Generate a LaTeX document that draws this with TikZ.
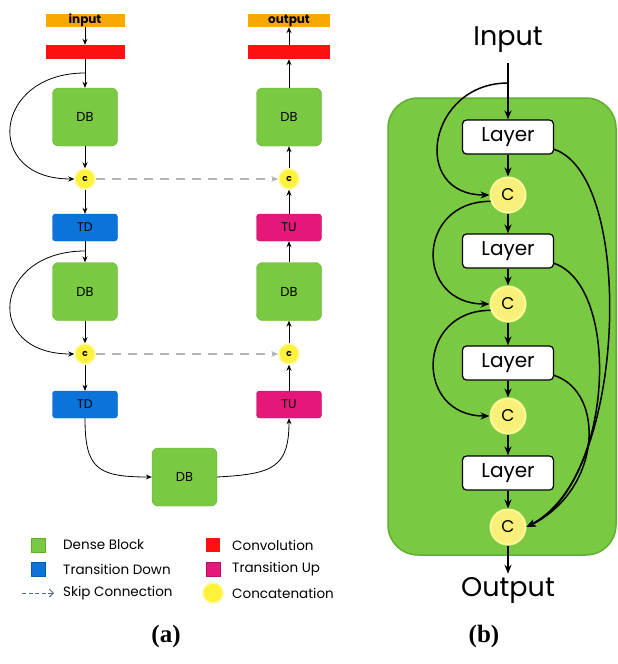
\documentclass[tikz,border=0pt]{standalone}
\usepackage{fontspec}
\usetikzlibrary{arrows.meta, positioning, calc}
\newfontfamily\gothique{Poppins}
\newfontfamily\titre{Liberation Serif}
\definecolor{vertdb}{HTML}{7AC943}
\definecolor{vertbord}{HTML}{5FB02C}
\definecolor{bleutd}{HTML}{0A74DA}
\definecolor{rosetu}{HTML}{E5177A}
\definecolor{rougeconv}{HTML}{FF1010}
\definecolor{orangein}{HTML}{F9A800}
\definecolor{jaunec}{HTML}{FFF23A}
\definecolor{jaunehalo}{HTML}{FFF99A}
\definecolor{jauneb}{HTML}{F8F07A}
\definecolor{grisskip}{HTML}{B4B4B4}
\definecolor{grisleg}{HTML}{5A6A85}

\begin{document}
\begin{tikzpicture}[x=1pt, y=-1pt, >={Stealth[length=6pt,width=5pt]},
  every node/.style={font=\gothique},
  fleche/.style={->, line width=0.8pt},
  db/.style={draw=vertbord, fill=vertdb, rounded corners=6pt, minimum width=65pt, minimum height=58pt, font=\gothique\fontsize{13}{13}\selectfont},
  td/.style={draw=bleutd!80!black, fill=bleutd, rounded corners=3pt, minimum width=65pt, minimum height=27pt, font=\gothique\fontsize{12.5}{13}\selectfont},
  tu/.style={td, draw=rosetu!80!black, fill=rosetu},
  conv/.style={fill=rougeconv, minimum height=14pt, inner sep=0pt},
  io/.style={fill=orangein, minimum height=13pt, inner sep=0pt, font=\gothique\bfseries\fontsize{12}{12}\selectfont},
  concat/.style={circle, fill=jaunec, draw=jaunehalo, line width=1.5pt, minimum size=20pt, inner sep=0pt, font=\gothique\bfseries\fontsize{9}{9}\selectfont},
  layer/.style={draw, fill=white, line width=1.2pt, rounded corners=4pt, minimum width=91pt, minimum height=34pt, inner sep=0pt, font=\gothique\fontsize{20}{20}\selectfont},
  grosc/.style={circle, fill=jauneb, draw=jaunehalo, line width=2pt, minimum size=35pt, inner sep=0pt, font=\gothique\fontsize{17}{17}\selectfont},
  grosse/.style={->, line width=1.5pt, >={Stealth[length=9pt,width=7pt]}},
  leg/.style={anchor=west, inner sep=0pt, font=\gothique\fontsize{13.5}{14}\selectfont}]

  \useasboundingbox (0,0) rectangle (618,664);

  % (a) colonne descendante
  \node[io, minimum width=79pt] (inp) at (85,20.5) {input};
  \node[conv, minimum width=79pt] (conv1) at (85,52) {};
  \node[db] (db1) at (85,117) {DB};
  \node[concat] (c1) at (85,179) {c};
  \node[td] (td1) at (85,227.5) {TD};
  \node[db] (db2) at (85,291.5) {DB};
  \node[concat] (c2) at (85,354) {c};
  \node[td] (td2) at (85,404.5) {TD};

  % (a) bloc du fond
  \node[db] (db3) at (184.5,477) {DB};

  % (a) colonne montante
  \node[tu] (tu2) at (289,404.5) {TU};
  \node[concat] (c4) at (289,354) {c};
  \node[db] (db4) at (289,291.5) {DB};
  \node[tu] (tu1) at (289,227.5) {TU};
  \node[concat] (c3) at (289,179) {c};
  \node[db] (db5) at (289,117) {DB};
  \node[conv, minimum width=82pt] (conv2) at (289,52) {};
  \node[io, minimum width=82pt] (outp) at (289,20.5) {output};

  % fleches verticales
  \draw[fleche] (inp) -- (conv1);
  \draw[fleche] (conv1) -- (db1);
  \draw[fleche] (db1) -- (c1);
  \draw[fleche] (c1) -- (td1);
  \draw[fleche] (td1) -- (db2);
  \draw[fleche] (db2) -- (c2);
  \draw[fleche] (c2) -- (td2);
  \draw[fleche] (tu2) -- (c4);
  \draw[fleche] (c4) -- (db4);
  \draw[fleche] (db4) -- (tu1);
  \draw[fleche] (tu1) -- (c3);
  \draw[fleche] (c3) -- (db5);
  \draw[fleche] (db5) -- (conv2);
  \draw[fleche] (conv2) -- (outp);

  % contournements des blocs denses
  \coordinate (b1) at (85,73);
  \coordinate (b2) at (85,251);
  \draw[fleche] (b1) .. controls +(-92,0) and +(-92,0) .. (c1.west);
  \draw[fleche] (b2) .. controls +(-92,0) and +(-92,0) .. (c2.west);
  \draw[fleche] (td2.south) .. controls +(0,50) and +(-55,0) .. (db3.west);
  \draw[fleche] (db3.east) .. controls +(55,-3) and +(0,50) .. (tu2.south);

  % skip connections
  \foreach \a/\b in {c1/c3, c2/c4}
    \draw[->, grisskip, line width=2pt, dash pattern=on 9pt off 7pt, >={Stealth[length=7pt,width=6pt]}] (\a.east) -- (\b.west);

  % legende
  \node[fill=vertdb, draw=vertbord, minimum size=14pt, inner sep=0pt] (lg1) at (38,545) {};
  \node[fill=bleutd, draw=bleutd!80!black, minimum size=14pt, inner sep=0pt] (lg2) at (38,569) {};
  \coordinate (lg3a) at (22,593);
  \coordinate (lg3b) at (54,593);
  \draw[->, grisleg, line width=1pt, dash pattern=on 4pt off 2.5pt, >={Straight Barb[length=4pt,width=8pt]}] (lg3a) -- (lg3b);
  \node[leg] at (63,545) {Dense Block};
  \node[leg] at (63,569) {Transition Down};
  \node[leg] at (63,593) {Skip Connection};
  \node[fill=rougeconv, minimum size=14pt, inner sep=0pt] (lg4) at (213,545) {};
  \node[fill=rosetu, draw=rosetu!80!black, minimum size=14pt, inner sep=0pt] (lg5) at (213,569) {};
  \node[circle, fill=jaunec, draw=jaunehalo, line width=1.5pt, minimum size=20pt, inner sep=0pt] (lg6) at (213,593) {};
  \node[leg] at (232,545) {Convolution};
  \node[leg] at (232,569) {Transition Up};
  \node[leg] at (232,593) {Concatenation};

  \node[font=\titre\bfseries\fontsize{25}{25}\selectfont] (ta) at (166,636) {(a)};

  % (b) bloc dense detaille
  \draw[fill=vertdb, draw=vertbord, line width=1.5pt, rounded corners=30pt] (388,98) rectangle (616,555);

  \node[font=\gothique\fontsize{27}{27}\selectfont, inner sep=0pt] (entree) at (508,40) {Input};
  \node[layer] (l1) at (508,137) {Layer};
  \node[grosc] (k1) at (508,195) {C};
  \node[layer] (l2) at (508,251) {Layer};
  \node[grosc] (k2) at (508,304) {C};
  \node[layer] (l3) at (508,363) {Layer};
  \node[grosc] (k3) at (508,416) {C};
  \node[layer] (l4) at (508,473) {Layer};
  \node[grosc] (k4) at (508,527) {C};
  \node[font=\gothique\fontsize{27}{27}\selectfont, inner sep=0pt] (sortie) at (508,590) {Output};

  \draw[grosse, shorten <=10pt] (entree.south) -- (l1.north);
  \foreach \a/\b in {l1/k1, k1/l2, l2/k2, k2/l3, l3/k3, k3/l4, l4/k4}
    \draw[grosse] (\a) -- (\b);
  \draw[grosse, shorten >=3pt] (k4.south) -- (sortie.north);

  % connexions a gauche
  \coordinate (e1) at (508,83);
  \draw[grosse] (e1) .. controls +(-80,0) and +(-80,0) .. (k1.west);
  \draw[grosse] (k1.200) .. controls +(-75,0) and +(-75,0) .. (k2.west);
  \draw[grosse] (k2.200) .. controls +(-75,0) and +(-75,0) .. (k3.west);

  % connexions a droite
  \draw[grosse] (l1.345) .. controls +(82,27) and +(100,-47) .. (k4.east);
  \draw[grosse] (l2.345) .. controls +(67,23) and +(88,-47) .. (k4.east);
  \draw[grosse] (l3.345) .. controls +(52,17) and +(75,-37) .. (k4.east);

  \node[font=\titre\bfseries\fontsize{25}{25}\selectfont] (tb) at (484,636) {(b)};

\end{tikzpicture}
\end{document}
